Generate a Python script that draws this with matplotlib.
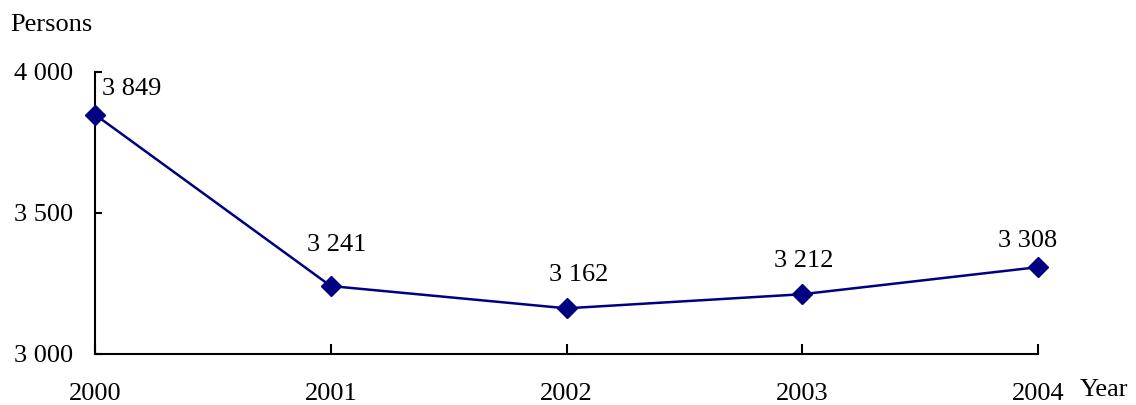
import matplotlib
matplotlib.use("Agg")
import matplotlib.pyplot as plt

years = [2000, 2001, 2002, 2003, 2004]
persons = [3849, 3241, 3162, 3212, 3308]
value_labels = ["3 849", "3 241", "3 162", "3 212", "3 308"]
yticks = [3000, 3500, 4000]
ytick_labels = ["3 000", "3 500", "4 000"]

plt.rcParams['font.family'] = ['Liberation Serif', 'DejaVu Serif']
FS = 19
fig = plt.figure(figsize=(11.36, 4.05), dpi=100)
ax = fig.add_axes([95/1136, 1-354/405, (1038-95)/1136, (354-72)/405])

color = '#000080'
ax.plot(years, persons, color=color, lw=1.8, marker='D', markersize=10, clip_on=False, zorder=3)

offsets = [(26.6, 18.7), (4.3, 29.9), (8.6, 23.8), (1.4, 24.1), (-7.2, 18.7)]
for x, y, t, off in zip(years, persons, value_labels, offsets):
    ax.annotate(t, (x, y), xytext=off, textcoords='offset points', ha='center', va='center', fontsize=FS)

ax.set_xlim(2000, 2004)
ax.set_ylim(3000, 4000)
ax.set_yticks(yticks)
ax.set_yticklabels(ytick_labels)
ax.set_xticks(years)
ax.set_xticklabels([str(y) for y in years])
ax.tick_params(axis='y', direction='in', length=5, width=1.5, labelsize=FS, pad=16)
ax.tick_params(axis='x', direction='in', length=7, width=1.5, labelsize=FS, pad=21)
for s in ['top', 'right']:
    ax.spines[s].set_visible(False)
for s in ['left', 'bottom']:
    ax.spines[s].set_linewidth(1.5)

fig.text(10/1136, 1-25/405, "Persons", fontsize=FS, va='center', ha='left')
fig.text(1080/1136, 1-390/405, "Year", fontsize=FS, va='center', ha='left')

fig.savefig("out.png", dpi=100)
